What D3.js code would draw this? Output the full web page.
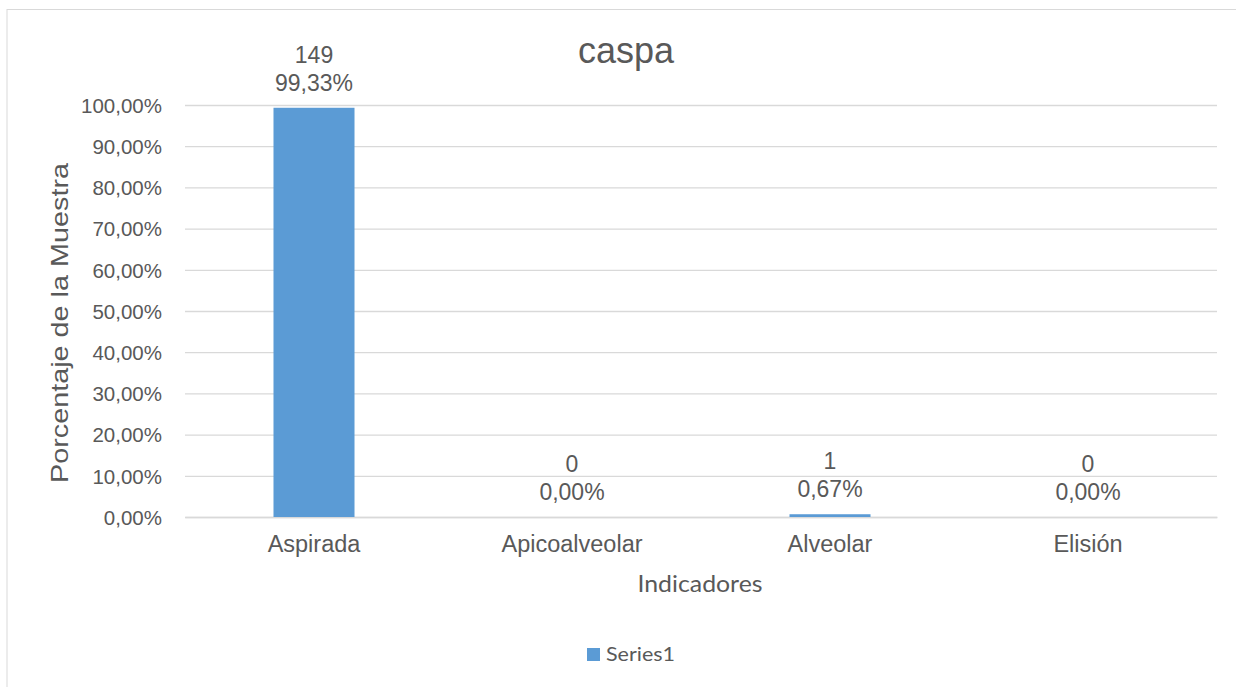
<!DOCTYPE html>
<html>
<head>
<meta charset="utf-8">
<script src="https://cdn.jsdelivr.net/npm/d3@7"></script>
<style>
  html, body { margin: 0; padding: 0; background: #fff; }
  svg { display: block; }
</style>
</head>
<body>
<svg id="chart" width="1236" height="687"></svg>
<script>
// Chart data
const categories = ["Aspirada", "Apicoalveolar", "Alveolar", "Elisión"];
const counts = [149, 0, 1, 0];
const percents = [99.33, 0.00, 0.67, 0.00];
const yTicks = [0, 10, 20, 30, 40, 50, 60, 70, 80, 90, 100];
const seriesName = "Series1";
const chartTitle = "caspa";
const xTitle = "Indicadores";
const yTitle = "Porcentaje de la Muestra";

const svg = d3.select("#chart");
const W = 1236, H = 687;
const margin = { left: 185, right: W - 1217, top: 105, bottom: H - 517 };
const textColor = "#595959";
const barColor = "#5b9bd5";
const gridColor = "#d9d9d9";
const font = "'Liberation Sans', Arial, sans-serif";
const bodyFont = "Lato, 'Open Sans', sans-serif";

// Chart outer frame
svg.append("rect")
  .attr("x", 7).attr("y", 9.5)
  .attr("width", W + 20).attr("height", H + 20)
  .attr("fill", "#fff").attr("stroke", "#d9d9d9").attr("stroke-width", 1);

const x = d3.scaleBand()
  .domain(categories)
  .range([margin.left, W - margin.right])
  .paddingInner(0.686).paddingOuter(0.343);

const y = d3.scaleLinear()
  .domain([0, 100])
  .range([H - margin.bottom, margin.top]);

// Horizontal gridlines and tick labels
const yAxis = d3.axisLeft(y)
  .tickValues(yTicks)
  .tickSize(-(W - margin.left - margin.right))
  .tickPadding(23)
  .tickFormat(d => d.toFixed(2).replace(".", ",") + "%");

const gy = svg.append("g")
  .attr("transform", `translate(${margin.left},0)`)
  .call(yAxis);
gy.select(".domain").remove();
gy.selectAll(".tick line").attr("stroke", gridColor).attr("stroke-width", 1.3);
gy.selectAll(".tick text")
  .attr("fill", textColor)
  .attr("dy", "0.36em")
  .style("font-family", font)
  .style("font-size", "20.5px");

// Category axis
const xAxis = d3.axisBottom(x).tickSize(0).tickPadding(0);
const gx = svg.append("g")
  .attr("transform", `translate(0,${H - margin.bottom})`)
  .call(xAxis);
gx.select(".domain").attr("stroke", gridColor).attr("stroke-width", 1.3);
gx.selectAll(".tick text")
  .attr("y", 35)
  .attr("dy", null)
  .attr("fill", textColor)
  .style("font-family", font)
  .style("font-size", "23.5px");

// Bars
const data = categories.map((c, i) => ({ cat: c, count: counts[i], pct: percents[i] }));
svg.append("g").selectAll("rect")
  .data(data)
  .join("rect")
  .attr("x", d => x(d.cat))
  .attr("y", d => y(d.pct))
  .attr("width", x.bandwidth())
  .attr("height", d => y(0) - y(d.pct))
  .attr("fill", barColor);

// Data labels: count and percentage
const labels = svg.append("g")
  .style("font-family", font)
  .style("font-size", "23px")
  .attr("fill", textColor)
  .attr("text-anchor", "middle");
labels.selectAll("text.count")
  .data(data)
  .join("text")
  .attr("class", "count")
  .attr("x", d => x(d.cat) + x.bandwidth() / 2)
  .attr("y", d => y(d.pct) - 45)
  .text(d => d.count);
labels.selectAll("text.pct")
  .data(data)
  .join("text")
  .attr("class", "pct")
  .attr("x", d => x(d.cat) + x.bandwidth() / 2)
  .attr("y", d => y(d.pct) - 17)
  .text(d => d.pct.toFixed(2).replace(".", ",") + "%");

// Title
svg.append("text")
  .attr("x", 626).attr("y", 63)
  .attr("text-anchor", "middle")
  .attr("fill", textColor)
  .style("font-family", font)
  .style("font-size", "36px")
  .text(chartTitle);

// Axis titles
svg.append("text")
  .attr("x", 700).attr("y", 592)
  .attr("text-anchor", "middle")
  .attr("fill", textColor)
  .style("font-family", bodyFont)
  .style("font-size", "23px")
  .attr("textLength", 125)
  .attr("lengthAdjust", "spacingAndGlyphs")
  .text(xTitle);

svg.append("text")
  .attr("transform", "translate(68,323) rotate(-90)")
  .attr("text-anchor", "middle")
  .attr("fill", textColor)
  .style("font-family", font)
  .style("font-size", "24px")
  .attr("textLength", 320)
  .attr("lengthAdjust", "spacingAndGlyphs")
  .text(yTitle);

// Legend
const lg = svg.append("g").attr("transform", "translate(587,648)");
lg.append("rect").attr("width", 13).attr("height", 13).attr("fill", barColor);
lg.append("text")
  .attr("x", 19).attr("y", 13)
  .attr("fill", textColor)
  .style("font-family", bodyFont)
  .style("font-size", "20px")
  .attr("textLength", 69)
  .attr("lengthAdjust", "spacingAndGlyphs")
  .text(seriesName);
</script>
</body>
</html>
